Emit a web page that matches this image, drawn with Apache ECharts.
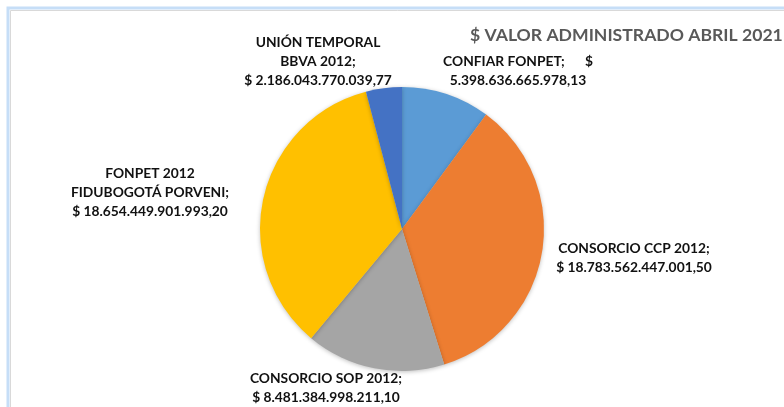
<!DOCTYPE html>
<html>
<head>
<meta charset="utf-8">
<script src="https://cdn.jsdelivr.net/npm/echarts@6/dist/echarts.min.js"></script>
<style>html,body{margin:0;padding:0;background:#fff;}#c{width:784px;height:407px;}</style>
</head>
<body>
<div id="c"></div>
<script>
const title = '$ VALOR ADMINISTRADO ABRIL 2021';
const categories = ['CONFIAR FONPET', 'CONSORCIO CCP 2012', 'CONSORCIO SOP 2012', 'FONPET 2012\nFIDUBOGOTÁ PORVENI', 'UNIÓN TEMPORAL\nBBVA 2012'];
const values = [5398636665978.13, 18783562447001.50, 8481384998211.10, 18654449901993.20, 2186043770039.77];
const colors = ['#5B9BD5', '#ED7D31', '#A5A5A5', '#FFC000', '#4472C4'];

function fmt(v) {
  const parts = v.toFixed(2).split('.');
  const intPart = parts[0].replace(/\B(?=(\d{3})+(?!\d))/g, '.');
  return intPart + ',' + parts[1];
}

// label anchor positions (layout only)
const labelPos = [[518, 71], [634, 258], [326, 388], [150, 193], [318, 62]];

const chart = echarts.init(document.getElementById('c'));
chart.setOption({
  animation: false,
  backgroundColor: '#fff',
  title: {
    text: title,
    left: 465, top: 21,
    textStyle: {fontFamily: 'Lato', fontWeight: 'bold', fontSize: 17.6, color: '#595959'}
  },
  graphic: [
    {type: 'rect', shape: {x: 8, y: 8, width: 800, height: 420}, style: {fill: 'none', stroke: '#C6DEF7', lineWidth: 3}, z: 10},
    {type: 'rect', shape: {x: 10.5, y: 10.5, width: 800, height: 420}, style: {fill: 'none', stroke: '#D9D9D9', lineWidth: 1}, z: 10}
  ],
  series: [{
    type: 'pie',
    center: [402, 229],
    radius: [0, 142],
    startAngle: 90,
    clockwise: true,
    color: colors,
    itemStyle: {borderWidth: 0, shadowBlur: 4, shadowColor: 'rgba(0,0,0,0.25)', shadowOffsetY: 1},
    emphasis: {disabled: true},
    labelLine: {show: false},
    label: {
      show: true,
      position: 'outside',
      fontFamily: 'Lato', fontWeight: 'bold', fontSize: 13.8, color: '#111',
      lineHeight: 19, align: 'center',
      formatter: function (p) {
        if (p.dataIndex === 0) return p.name + ';      $\n' + fmt(p.value);
        return p.name + ';\n$ ' + fmt(p.value);
      }
    },
    labelLayout: function (params) {
      const pos = labelPos[params.dataIndex];
      return {x: pos[0], y: pos[1], align: 'center', verticalAlign: 'middle'};
    },
    data: categories.map((c, i) => ({name: c, value: values[i]}))
  }]
});
</script>
</body>
</html>
